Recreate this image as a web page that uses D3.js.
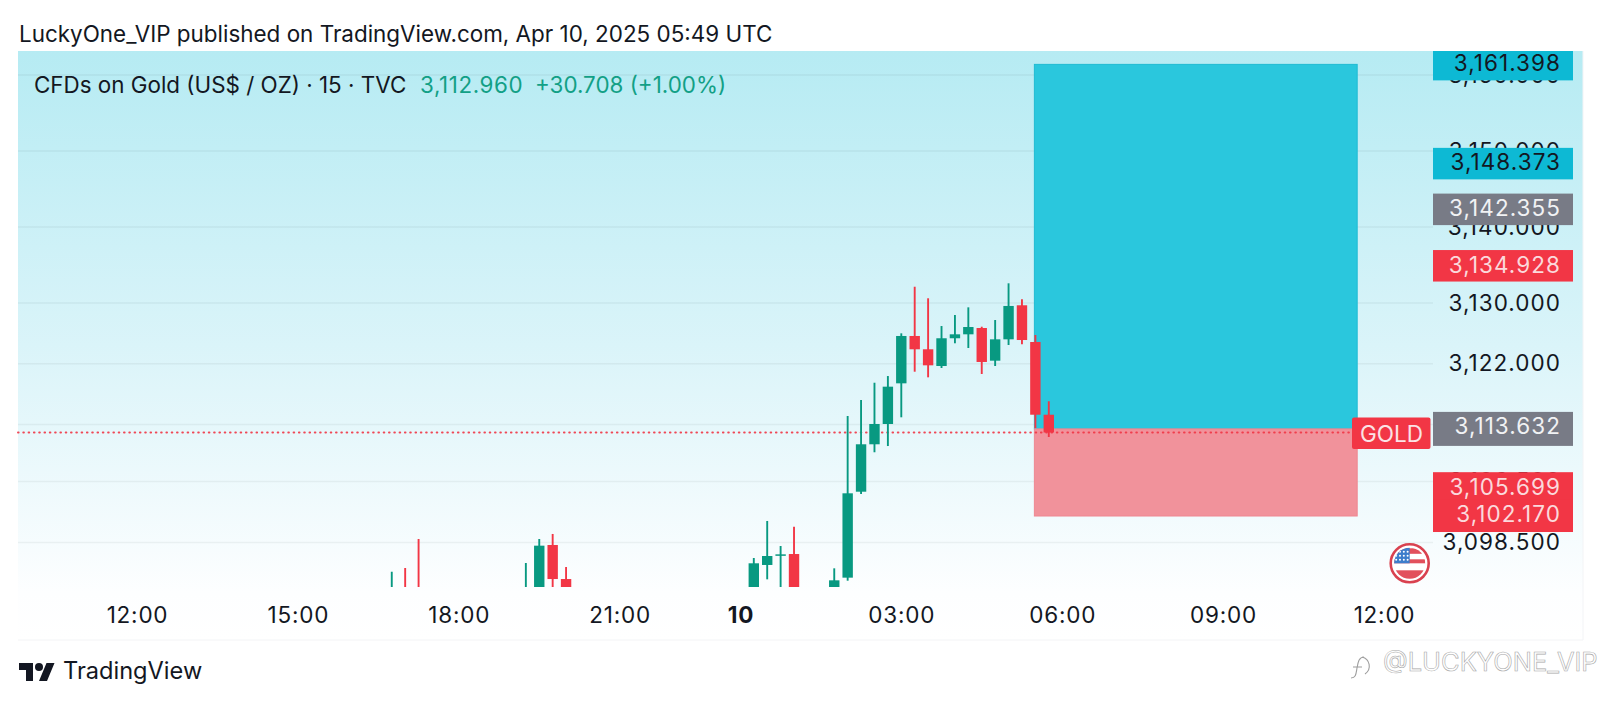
<!DOCTYPE html>
<html><head><meta charset="utf-8">
<script src="https://cdn.jsdelivr.net/npm/d3@7/dist/d3.min.js"></script>
<style>
html,body{margin:0;padding:0;background:#fff;overflow:hidden}
svg{display:block}
text{font-family:Inter,Roboto,sans-serif}
</style></head><body>
<svg id="c" width="1600" height="706"></svg>
<script>
const titleText = "LuckyOne_VIP published on TradingView.com, Apr 10, 2025 05:49 UTC";
const symbolText = "CFDs on Gold (US$ / OZ) · 15 · TVC";
const lastText = "3,112.960";
const changeText = "+30.708 (+1.00%)";
const brandText = "TradingView";
const watermarkText = "@LUCKYONE_VIP";

const barIndex = [19,20,21,29,30,31,32,46,47,48,49,52,53,54,55,56,57,58,59,60,61,62,63,64,65,66,67,68];
const opens  = [3092,3092,3092,3091.5,3092,3098.16,3093.68,3092,3095.53,3096.75,3096.97,3092,3093.86,3105.17,3111.41,3114.08,3119.43,3125.66,3123.91,3121.71,3125.36,3125.88,3126.71,3122.41,3125.22,3129.7,3124.87,3115.3];
const highs  = [3094.64,3095.13,3098.95,3095.79,3098.95,3099.61,3095.26,3096.45,3101.32,3098.03,3100.57,3095.09,3115.13,3117.24,3119.51,3120.39,3126.01,3132.14,3130.62,3126.97,3128.42,3129.43,3126.88,3127.76,3132.59,3130.49,3125.79,3117.07];
const lows   = [3091,3091,3091,3091,3091,3091,3091,3091,3093.64,3091,3091,3091,3093.46,3104.87,3110.36,3111.18,3114.96,3120.96,3120.22,3121.45,3124.7,3124.08,3120.66,3121.71,3124.47,3124.57,3113.55,3112.37];
const closes = [3092.5,3091.5,3091.5,3092,3098.07,3093.68,3092,3095.75,3096.71,3096.93,3092,3093.51,3104.96,3111.41,3114.08,3118.99,3125.66,3123.91,3121.8,3125.36,3125.88,3126.84,3122.24,3125.22,3129.61,3125.13,3115.3,3112.96];

const priceTicks = [3160,3150,3140,3130,3122,3114,3106.5,3098.5];
const timeTickIndex = [0,12,24,36,45,57,69,81,93];
const timeTickLabels = ["12:00","15:00","18:00","21:00","10","03:00","06:00","09:00","12:00"];

const targetPrice = 3161.398, entryPrice = 3113.632, stopPrice = 3102.170, lastPrice = 3112.96;
const boxStartIndex = 67, boxEndIndex = 91;

const priceLabels = ["3,161.398","3,148.373","3,142.355","3,134.928","3,113.632","3,105.699","3,102.170"];
const priceLabelValues = [3161.398,3148.373,3142.355,3134.928,3113.632,3105.699,3102.170];
const priceLabelKinds = ["target","target","neutral","stop","neutral","stop","stop"];

const UP="#089981", DOWN="#F23645", GREY="#787B86", TEAL="#0DB9D4", INK="#131722";
const pane={l:18,r:1583,t:51,b:640,plotB:587,axisX:1433};

const x=d3.scaleLinear().domain([0,93]).range([137,1384]);
const y=d3.scaleLinear().domain([3130,3098.5]).range([303,542.4]);
const svg=d3.select("#c");
const defs=svg.append("defs");

const grad=defs.append("linearGradient").attr("id","bg").attr("x1",0).attr("x2",0).attr("y1",0).attr("y2",1);
grad.append("stop").attr("offset","0%").attr("stop-color","#B6EBF3");
grad.append("stop").attr("offset","50%").attr("stop-color","#DAF4F9");
grad.append("stop").attr("offset","92%").attr("stop-color","#FDFEFF");
grad.append("stop").attr("offset","100%").attr("stop-color","#FFFFFF");
defs.append("clipPath").attr("id","plot").append("rect")
  .attr("x",pane.l).attr("y",pane.t).attr("width",pane.axisX-pane.l).attr("height",pane.plotB-pane.t);
defs.append("clipPath").attr("id","labels").append("rect")
  .attr("x",pane.axisX-100).attr("y",pane.t).attr("width",300).attr("height",pane.b-pane.t);

svg.append("rect").attr("x",pane.l).attr("y",pane.t).attr("width",pane.r-pane.l).attr("height",pane.b-pane.t).attr("fill","url(#bg)");
svg.append("line").attr("x1",pane.l).attr("x2",pane.r).attr("y1",pane.b).attr("y2",pane.b).attr("stroke","#F3F4F6");
svg.append("line").attr("x1",pane.r).attr("x2",pane.r).attr("y1",pane.t).attr("y2",pane.b).attr("stroke","#F3F4F6");

// grid
svg.append("g").selectAll("line").data(priceTicks).join("line")
  .attr("x1",pane.l).attr("x2",pane.axisX).attr("y1",d=>y(d)).attr("y2",d=>y(d))
  .attr("stroke","#2A2E39").attr("stroke-opacity",0.06).attr("stroke-width",1.5);

// y axis
const yAxis=d3.axisRight(y).tickValues(priceTicks).tickSize(0).tickPadding(0).tickFormat(d3.format(",.3f"));
const gy=svg.append("g").attr("transform",`translate(1561,-1)`).call(yAxis);
gy.select(".domain").remove();
gy.selectAll("text").attr("text-anchor","end").attr("x",0).attr("dy","0.36em")
  .attr("font-size",22.5).attr("fill",INK).style("letter-spacing","1.05px");

// time axis
const xAxis=d3.axisBottom(x).tickValues(timeTickIndex).tickSize(0).tickPadding(0).tickFormat((d,i)=>timeTickLabels[i]);
const gx=svg.append("g").attr("transform",`translate(0,615)`).call(xAxis);
gx.select(".domain").remove();
gx.selectAll("text").attr("y",0).attr("dy","0.36em").attr("font-size",22.5).attr("fill",INK)
  .attr("font-weight",(d,i)=>timeTickLabels[i]==="10"?700:400).style("letter-spacing","0.8px");

// position boxes
const bx0=x(boxStartIndex)-1, bx1=x(boxEndIndex);
svg.append("rect").attr("x",bx0).attr("y",y(targetPrice)).attr("width",bx1-bx0).attr("height",y(entryPrice)+1.5-y(targetPrice))
  .attr("fill","#2AC7DD").attr("stroke","#1FBBD3").attr("stroke-width",1);
svg.append("rect").attr("x",bx0).attr("y",y(entryPrice)+1.5).attr("width",bx1-bx0).attr("height",y(stopPrice)-y(entryPrice))
  .attr("fill","#F1929B").attr("stroke","#EE8892").attr("stroke-width",1);

// last price line
svg.append("line").attr("x1",pane.l).attr("x2",1352).attr("y1",y(lastPrice)).attr("y2",y(lastPrice))
  .attr("stroke",DOWN).attr("stroke-width",2).attr("stroke-linecap","round").attr("stroke-dasharray","0.6 4.7").attr("opacity",0.9);

// candles
const candles=barIndex.map((b,i)=>({b,o:opens[i],h:highs[i],l:lows[i],c:closes[i]}));
const cg=svg.append("g").attr("clip-path","url(#plot)");
const col=d=>d.c>=d.o?UP:DOWN;
cg.selectAll(".w").data(candles).join("line").attr("class","w")
  .attr("x1",d=>x(d.b)).attr("x2",d=>x(d.b)).attr("y1",d=>y(d.h)).attr("y2",d=>y(d.l))
  .attr("stroke",col).attr("stroke-width",1.9);
cg.selectAll(".b").data(candles).join("rect").attr("class","b")
  .attr("x",d=>x(d.b)-5.2).attr("width",10.4)
  .attr("y",d=>y(Math.max(d.o,d.c))).attr("height",d=>Math.max(1.5,Math.abs(y(d.o)-y(d.c))))
  .attr("fill",col);

// GOLD label
svg.append("rect").attr("x",1352).attr("y",417.5).attr("width",78.5).attr("height",31.5).attr("rx",2).attr("fill",DOWN);
svg.append("text").attr("x",1391.5).attr("y",433.5).attr("dy","0.36em").attr("text-anchor","middle")
  .attr("font-size",22.5).attr("fill","#FBE3E5").text("GOLD");

// price labels
const lg=svg.append("g").attr("clip-path","url(#labels)");
const fillOf=k=>k==="target"?TEAL:k==="stop"?DOWN:GREY;
const rows=priceLabels.map((t,i)=>({t,v:priceLabelValues[i],k:priceLabelKinds[i]}));
lg.selectAll("rect").data(rows).join("rect")
  .attr("x",pane.axisX).attr("width",1573-pane.axisX)
  .attr("y",d=>y(d.v)-15.5).attr("height",d=>d.v===entryPrice?34:d.v===stopPrice?33:31.5)
  .attr("fill",d=>fillOf(d.k));
lg.selectAll("text").data(rows).join("text")
  .attr("x",1561).attr("y",d=>y(d.v)-1).attr("dy","0.36em").attr("text-anchor","end")
  .attr("font-size",22.5).style("letter-spacing","1.05px")
  .attr("fill",d=>d.k==="target"?INK:d.k==="stop"?"#FBD9DC":"#F1F2F4").text(d=>d.t);

// flag
const fx=1409.7, fy=563.3;
defs.append("clipPath").attr("id","flag").append("circle").attr("cx",fx).attr("cy",fy).attr("r",15.5);
svg.append("circle").attr("cx",fx).attr("cy",fy).attr("r",19).attr("fill","#fff").attr("stroke","#D9414F").attr("stroke-width",2.6);
const fg=svg.append("g").attr("clip-path","url(#flag)");
fg.append("rect").attr("x",fx-16).attr("y",fy-16).attr("width",32).attr("height",32).attr("fill","#fff");
[[-15,5.5],[-4,4],[ 7,9]].forEach(([dy,h])=>fg.append("rect").attr("x",fx-16).attr("y",fy+dy).attr("width",32).attr("height",h).attr("fill","#E2505C"));
fg.append("rect").attr("x",fx-16).attr("y",fy-16).attr("width",16).attr("height",16).attr("fill","#3D7DCB");
d3.range(3).forEach(r=>d3.range(4).forEach(c=>fg.append("circle").attr("cx",fx-13.5+c*3.8).attr("cy",fy-11.5+r*4).attr("r",1).attr("fill","#fff")));

// header text
svg.append("text").attr("x",19).attr("y",34).attr("dy","0.36em").attr("font-size",22.45).attr("fill",INK).text(titleText);
svg.append("text").attr("x",34).attr("y",85).attr("dy","0.36em").attr("font-size",22.4).attr("fill",INK).text(symbolText);
svg.append("text").attr("x",420).attr("y",85).attr("dy","0.36em").attr("font-size",22.4).style("letter-spacing","0.6px").attr("fill","#12A086").text(lastText);
svg.append("text").attr("x",535).attr("y",85).attr("dy","0.36em").attr("font-size",22.4).attr("fill","#12A086").text(changeText);

// footer
svg.append("g").attr("transform","translate(19,659)").attr("fill","#131722").call(g=>{
  g.append("path").attr("d","M14 22H7V11H0V4h14v18zM28 22h-8l7.5-18h8L28 22z");
  g.append("circle").attr("cx",20).attr("cy",8).attr("r",4);
});
svg.append("text").attr("x",63).attr("y",671).attr("dy","0.36em").attr("font-size",23.6).attr("fill",INK).text(brandText);
svg.append("path").attr("d","M1351 678c5 0 5-4 6-10s2-11 7-11M1353 667h9M1362 657c8 2 10 12 3 17")
  .attr("fill","none").attr("stroke","#9E9E9E").attr("stroke-width",1.1);
svg.append("text").attr("x",1383).attr("y",662).attr("dy","0.36em").attr("font-size",25.5)
  .attr("fill","#fff").attr("stroke","#A8A8A8").attr("stroke-width",0.6).text(watermarkText);
</script>
</body></html>
